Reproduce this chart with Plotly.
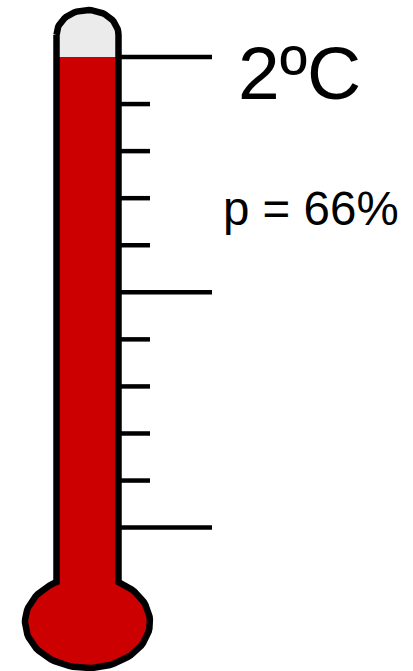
import numpy as np
import plotly.graph_objects as go

# thermometer reading and scale marks, degrees C
level = 2.0
major_ticks = [0.0, 1.0, 2.0]
minor_ticks = [0.2, 0.4, 0.6, 0.8, 1.2, 1.4, 1.6, 1.8]
label_temp = "2ºC"
label_prob = "p = 66%"

PX = 235.3  # pixels per degree
y_top = level + 57 / PX
y_bottom = level - (671 - 57) / PX

def yd(py):
    return level - (py - 57) / PX

# glass outline, x in pixels, y through the degree scale
cx, wall = 87.5, 31.0
cap_py, cap_h = 35.0, 25.0
bulb_py, bulb_a, bulb_b = 622.0, 62.5, 46.0
t = np.linspace(np.pi, 0, 40)
cap_x = cx + wall * np.cos(t)
cap_y = yd(cap_py - cap_h * np.sin(t))
start = np.arccos(wall / bulb_a)
s = np.linspace(start, -np.pi - start, 80)
bulb_x = cx + bulb_a * np.cos(s)
bulb_y = yd(bulb_py - bulb_b * np.sin(s))
out_x = np.concatenate([cap_x, bulb_x])
out_y = np.concatenate([cap_y, bulb_y])
closed_x = np.append(out_x, out_x[0])
closed_y = np.append(out_y, out_y[0])

fig = go.Figure()

# glass
fig.add_trace(go.Scatter(x=closed_x, y=closed_y, mode="lines", fill="toself",
                         fillcolor="#ebebeb", line=dict(width=0)))

# mercury, from the reading down the tube and round the bulb
merc_x = np.concatenate([[cx + wall], bulb_x, [cx - wall]])
merc_y = np.concatenate([[level], bulb_y, [level]])
fig.add_trace(go.Scatter(x=merc_x, y=merc_y, mode="lines", fill="toself",
                         fillcolor="#cc0000", line=dict(width=0)))

# scale marks
for v in major_ticks:
    fig.add_trace(go.Scatter(x=[119, 212], y=[v, v], mode="lines",
                             line=dict(color="black", width=4.5)))
for v in minor_ticks:
    fig.add_trace(go.Scatter(x=[119, 150], y=[v, v], mode="lines",
                             line=dict(color="black", width=4.5)))

fig.add_trace(go.Scatter(x=closed_x, y=closed_y, mode="lines",
                         line=dict(color="black", width=6.5)))

fig.add_annotation(x=236, y=yd(73), text=label_temp, showarrow=False, xanchor="left",
                   font=dict(family="Liberation Sans", size=75, color="black"))
fig.add_annotation(x=221, y=yd(208), text=label_prob, showarrow=False, xanchor="left",
                   font=dict(family="Liberation Sans", size=47.5, color="black"))

fig.update_layout(width=413, height=671, margin=dict(l=0, r=0, t=0, b=0),
                  showlegend=False, paper_bgcolor="white", plot_bgcolor="white",
                  xaxis=dict(range=[0, 413], visible=False),
                  yaxis=dict(range=[y_bottom, y_top], visible=False))

fig.write_html("out.html", config=dict(displayModeBar=False),
               post_script="document.body.style.margin='0';document.body.style.overflow='hidden';")
